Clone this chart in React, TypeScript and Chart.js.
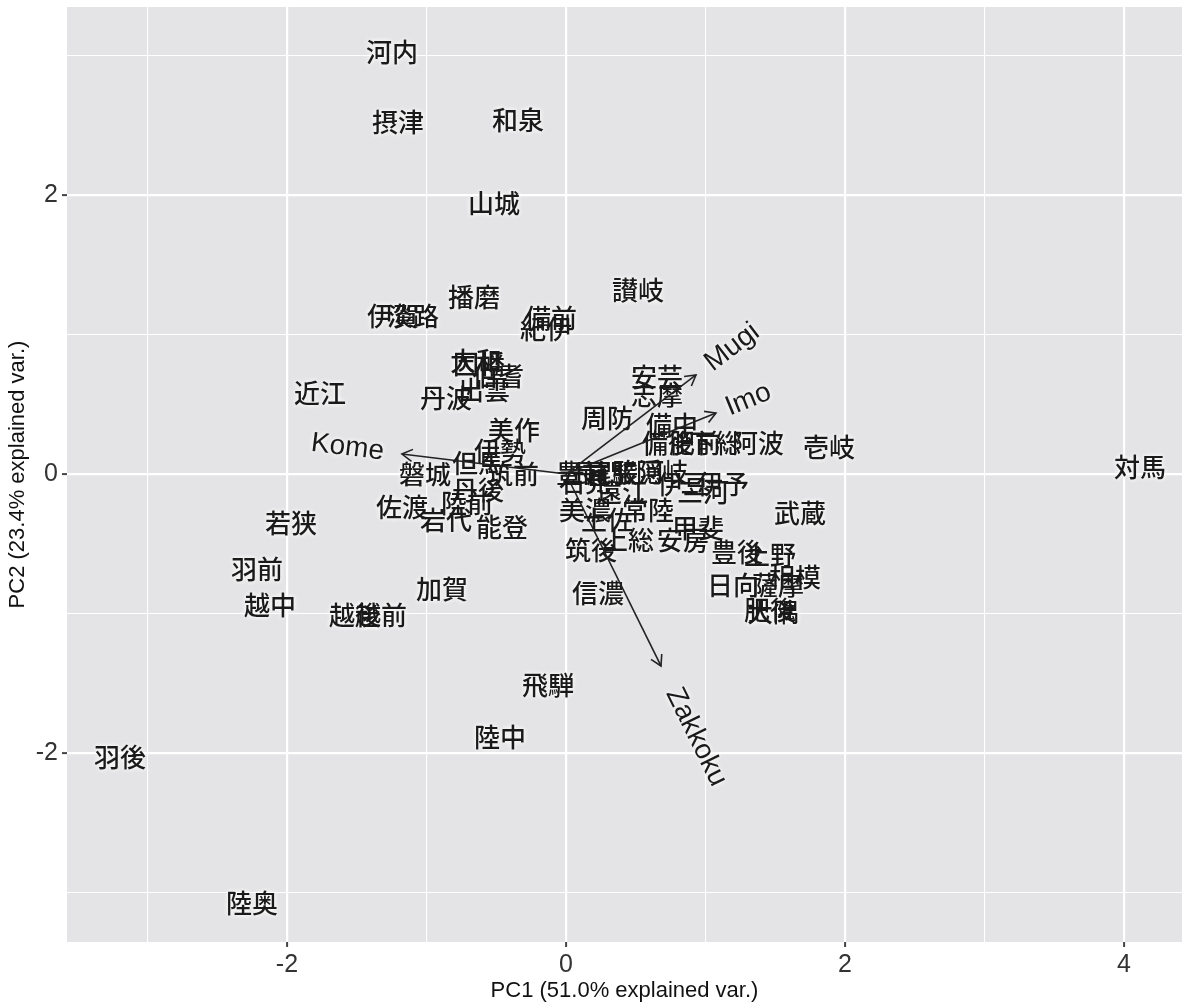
import { useEffect, useRef } from 'react';
import { Chart, registerables } from 'chart.js';

Chart.register(...registerables);

// Province scores (PC1, PC2)
const provinces = [
  '河内', '摂津', '和泉', '山城', '讃岐', '播磨', '伊賀', '淡路', '備前', '紀伊',
  '大和', '因幡', '伯耆', '出雲', '近江', '丹波', '美作', '伊勢', '但馬', '磐城',
  '石見', '筑前', '丹後', '佐渡', '陸前', '岩代', '能登', '若狭', '羽前', '越中',
  '越後', '越前', '加賀', '羽後', '陸奥', '陸中', '飛騨', '信濃', '筑後', '上総',
  '美濃', '土佐', '常陸', '豊前', '長門', '尾張', '駿河', '隠岐', '遠江', '伊豆',
  '伊予', '三河', '甲斐', '安房', '豊後', '上野', '武蔵', '日向', '薩摩', '相模',
  '肥後', '大隅', '安芸', '志摩', '周防', '備中', '備後', '肥前', '下総', '阿波',
  '壱岐', '対馬',
];
const pc1 = [
  -1.247, -1.204, -0.344, -0.516, 0.516, -0.659, -1.240, -1.097, -0.108, -0.143,
  -0.645, -0.624, -0.487, -0.588, -1.763, -0.860, -0.373, -0.473, -0.631, -1.011,
  0.136, -0.380, -0.631, -1.176, -0.710, -0.860, -0.459, -1.971, -2.215, -2.122,
  -1.513, -1.326, -0.889, -3.197, -2.251, -0.473, -0.129, 0.229, 0.179, 0.444,
  0.136, 0.294, 0.588, 0.115, 0.229, 0.330, 0.516, 0.688, 0.401, 0.839,
  1.125, 0.982, 0.946, 0.839, 1.226, 1.462, 1.677, 1.197, 1.520, 1.642,
  1.462, 1.484, 0.652, 0.652, 0.294, 0.760, 0.731, 0.925, 1.068, 1.376,
  1.885, 4.115,
];
const pc2 = [
  3.025, 2.523, 2.538, 1.943, 1.319, 1.269, 1.133, 1.133, 1.118, 1.039,
  0.810, 0.789, 0.703, 0.602, 0.581, 0.545, 0.315, 0.165, 0.079, 0.000,
  -0.057, 0.000, -0.115, -0.237, -0.208, -0.330, -0.380, -0.351, -0.681, -0.939,
  -1.011, -1.011, -0.824, -2.029, -3.075, -1.885, -1.513, -0.853, -0.545, -0.473,
  -0.258, -0.330, -0.258, 0.007, 0.007, 0.007, 0.014, 0.014, -0.129, -0.072,
  -0.072, -0.129, -0.387, -0.473, -0.559, -0.581, -0.280, -0.796, -0.796, -0.738,
  -0.975, -0.989, 0.695, 0.566, 0.401, 0.351, 0.222, 0.222, 0.222, 0.222,
  0.194, 0.050,
];

// Variable loadings (arrows)
const variables = ['Kome', 'Mugi', 'Imo', 'Zakkoku'];
const varPC1 = [-1.176, 0.932, 1.075, 0.681];
const varPC2 = [0.143, 0.710, 0.437, -1.376];

// Axes
const xRange = [-3.577, 4.416];
const yRange = [-3.355, 3.348];
const xGrid = [-3, -2, -1, 0, 1, 2, 3, 4];
const yGrid = [-3, -2, -1, 0, 1, 2, 3];
const xTickLabels = [-2, 0, 2, 4];
const yTickLabels = [-2, 0, 2];
const xTitle = 'PC1 (51.0% explained var.)';
const yTitle = 'PC2 (23.4% explained var.)';

const LATIN = "'Liberation Sans', Arial, Helvetica, sans-serif";
const LABEL_FONT = "500 26px 'Noto Sans CJK JP', sans-serif";
const VAR_FONT = "28px 'Liberation Sans', Arial, sans-serif";
const PANEL_BG = '#E4E4E6';
const INK = '#1a1a1a';
const ARROW = '#222222';

function glow(ctx: CanvasRenderingContext2D, text: string, x: number, y: number) {
  ctx.save();
  ctx.shadowColor = 'rgba(255,255,255,0.95)';
  ctx.shadowBlur = 5;
  ctx.fillStyle = 'rgba(255,255,255,0.9)';
  ctx.fillText(text, x, y);
  ctx.fillText(text, x, y);
  ctx.restore();
}

const biplotPlugin = {
  id: 'biplot',
  beforeDraw(chart: any) {
    const { ctx, chartArea } = chart;
    ctx.save();
    ctx.fillStyle = PANEL_BG;
    ctx.fillRect(chartArea.left, chartArea.top, chartArea.right - chartArea.left, chartArea.bottom - chartArea.top);
    ctx.restore();
  },
  beforeDatasetsDraw(chart: any) {
    const { ctx, scales } = chart;
    ctx.save();
    ctx.font = LABEL_FONT;
    ctx.textAlign = 'center';
    ctx.textBaseline = 'middle';
    const pts = provinces.map((_, i) => [scales.x.getPixelForValue(pc1[i]), scales.y.getPixelForValue(pc2[i])]);
    provinces.forEach((p, i) => glow(ctx, p, pts[i][0], pts[i][1]));
    ctx.fillStyle = INK;
    provinces.forEach((p, i) => ctx.fillText(p, pts[i][0], pts[i][1]));
    ctx.restore();
  },
  afterDatasetsDraw(chart: any) {
    const { ctx, scales } = chart;
    const ox = scales.x.getPixelForValue(0);
    const oy = scales.y.getPixelForValue(0);
    ctx.save();
    variables.forEach((v, i) => {
      const tx = scales.x.getPixelForValue(varPC1[i]);
      const ty = scales.y.getPixelForValue(varPC2[i]);
      const ang = Math.atan2(ty - oy, tx - ox);
      const len = 12;
      const spread = Math.PI / 6;
      ctx.strokeStyle = ARROW;
      ctx.lineWidth = 1.6;
      ctx.beginPath();
      ctx.moveTo(tx - len * Math.cos(ang - spread), ty - len * Math.sin(ang - spread));
      ctx.lineTo(tx, ty);
      ctx.lineTo(tx - len * Math.cos(ang + spread), ty - len * Math.sin(ang + spread));
      ctx.stroke();
      const dx = tx - ox;
      const dy = ty - oy;
      const rot = Math.atan(dy / dx);
      ctx.font = VAR_FONT;
      ctx.textAlign = 'left';
      ctx.textBaseline = 'middle';
      const w = ctx.measureText(v).width;
      ctx.save();
      ctx.translate(tx, ty);
      ctx.rotate(rot);
      const startX = dx > 0 ? 0.25 * w : -1.25 * w;
      glow(ctx, v, startX, 0);
      ctx.fillStyle = INK;
      ctx.fillText(v, startX, 0);
      ctx.restore();
    });
    ctx.restore();
  },
};

const gridLine = (labels: number[]) => ({
  color: '#FFFFFF',
  lineWidth: (c: any) => (c.tick && labels.includes(c.tick.value) ? 2.2 : 1.1),
  tickColor: (c: any) => (c.tick && labels.includes(c.tick.value) ? '#444444' : 'rgba(0,0,0,0)'),
  tickLength: 5,
  tickWidth: 2,
  drawOnChartArea: true,
  drawTicks: true,
});

export default function App() {
  const ref = useRef<HTMLCanvasElement | null>(null);

  useEffect(() => {
    if (!ref.current) return;
    const datasets: any[] = [
      {
        label: 'provinces',
        data: provinces.map((_, i) => ({ x: pc1[i], y: pc2[i] })),
        pointRadius: 0,
        pointHoverRadius: 0,
        showLine: false,
      },
      ...variables.map((v, i) => ({
        label: v,
        data: [
          { x: 0, y: 0 },
          { x: varPC1[i], y: varPC2[i] },
        ],
        showLine: true,
        borderColor: ARROW,
        borderWidth: 1.6,
        pointRadius: 0,
        pointHoverRadius: 0,
        fill: false,
      })),
    ];
    const chart = new Chart(ref.current, {
      type: 'scatter',
      data: { datasets },
      options: {
        responsive: false,
        animation: false,
        layout: { padding: { top: 7, right: 5, left: 0, bottom: 0 } },
        plugins: { legend: { display: false }, tooltip: { enabled: false } },
        scales: {
          x: {
            type: 'linear',
            min: xRange[0],
            max: xRange[1],
            afterBuildTicks: (s: any) => {
              s.ticks = xGrid.map((v) => ({ value: v }));
            },
            afterFit: (s: any) => {
              s.height = 62;
              s.paddingLeft = 0;
              s.paddingRight = 0;
            },
            border: { display: false },
            grid: gridLine(xTickLabels) as any,
            ticks: {
              autoSkip: false,
              maxRotation: 0,
              padding: 3,
              color: '#333333',
              font: { size: 25, family: LATIN },
              callback: (v: any) => (xTickLabels.includes(Number(v)) ? String(v) : ''),
            },
            title: {
              display: true,
              text: xTitle,
              color: '#111111',
              font: { size: 22, family: LATIN },
              padding: { top: 0, bottom: 0 },
            },
          },
          y: {
            type: 'linear',
            min: yRange[0],
            max: yRange[1],
            afterBuildTicks: (s: any) => {
              s.ticks = yGrid.map((v) => ({ value: v }));
            },
            afterFit: (s: any) => {
              s.width = 67;
              s.paddingTop = 0;
              s.paddingBottom = 0;
            },
            border: { display: false },
            grid: gridLine(yTickLabels) as any,
            ticks: {
              autoSkip: false,
              padding: 4,
              color: '#333333',
              font: { size: 25, family: LATIN },
              callback: (v: any) => (yTickLabels.includes(Number(v)) ? String(v) : ''),
            },
            title: {
              display: true,
              text: yTitle,
              color: '#111111',
              font: { size: 22, family: LATIN },
              padding: { top: 5, bottom: 0 },
            },
          },
        },
      },
      plugins: [biplotPlugin],
    });
    return () => chart.destroy();
  }, []);

  return (
    <div style={{ position: 'absolute', left: 0, top: 0, width: 1187, height: 1004, background: '#fff' }}>
      <canvas ref={ref} width={1187} height={1004} style={{ width: 1187, height: 1004 }} />
    </div>
  );
}
